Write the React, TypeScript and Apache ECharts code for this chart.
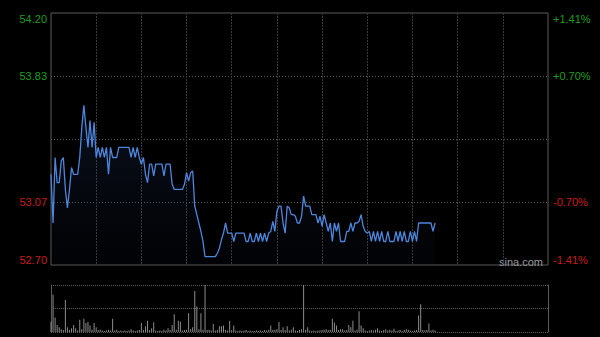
import { useEffect, useRef } from 'react';
import * as echarts from 'echarts';

// Intraday price per minute slot (first 188 of 242 slots)
const prices: number[] = [
  53.24, 52.95, 53.34, 53.19, 53.19, 53.32, 53.34, 53.15, 53.04, 53.15,
  53.28, 53.24, 53.24, 53.24, 53.34, 53.52, 53.65, 53.52, 53.40, 53.56,
  53.40, 53.55, 53.34, 53.40, 53.34, 53.40, 53.34, 53.40, 53.24, 53.40,
  53.34, 53.34, 53.34, 53.40, 53.40, 53.40, 53.40, 53.40, 53.40, 53.34,
  53.40, 53.34, 53.40, 53.34, 53.30, 53.34, 53.24, 53.19, 53.30, 53.30,
  53.23, 53.30, 53.30, 53.30, 53.30, 53.23, 53.30, 53.30, 53.30, 53.18,
  53.15, 53.15, 53.15, 53.15, 53.15, 53.18, 53.25, 53.20, 53.25, 53.26,
  53.05, 53.00, 52.95, 52.90, 52.84, 52.75, 52.75, 52.75, 52.75, 52.75,
  52.75, 52.77, 52.80, 52.85, 52.89, 52.95, 52.89, 52.89, 52.89, 52.84,
  52.89, 52.89, 52.89, 52.89, 52.89, 52.84, 52.84, 52.89, 52.84, 52.84,
  52.89, 52.84, 52.89, 52.84, 52.89, 52.84, 52.89, 52.90, 52.96, 52.90,
  53.02, 53.05, 53.05, 52.95, 52.89, 53.05, 53.04, 53.00, 53.00, 52.99,
  52.95, 52.95, 52.99, 53.11, 53.05, 53.05, 53.05, 53.00, 53.00, 53.00,
  52.95, 52.99, 52.93, 53.00, 52.95, 52.90, 52.95, 52.84, 52.95, 52.90,
  52.95, 52.84, 52.84, 52.84, 52.90, 52.90, 52.95, 52.90, 52.95, 52.95,
  52.96, 53.00, 52.93, 52.90, 52.89, 52.90, 52.84, 52.90, 52.84, 52.90,
  52.84, 52.90, 52.84, 52.84, 52.90, 52.84, 52.84, 52.84, 52.90, 52.84,
  52.90, 52.84, 52.90, 52.84, 52.84, 52.90, 52.84, 52.90, 52.84, 52.95,
  52.95, 52.95, 52.95, 52.95, 52.95, 52.95, 52.90, 52.95,
];

// Volume per minute slot (relative units, panel top = 100)
const volumes: number[] = [
  22, 79, 31, 15, 10, 6, 4, 68, 10, 4,
  8, 15, 8, 3, 26, 6, 28, 19, 22, 14,
  5, 19, 10, 4, 5, 3, 2, 3, 5, 3,
  28, 3, 5, 2, 3, 2, 3, 2, 3, 6,
  3, 2, 3, 4, 19, 4, 12, 24, 4, 8,
  21, 3, 2, 3, 2, 5, 3, 8, 4, 15,
  38, 5, 24, 22, 3, 4, 5, 40, 6, 10,
  87, 54, 6, 40, 5, 110, 4, 5, 3, 17,
  3, 4, 12, 12, 14, 4, 3, 24, 4, 14,
  3, 2, 3, 2, 3, 4, 2, 3, 2, 2,
  3, 2, 3, 2, 4, 3, 5, 14, 4, 5,
  6, 22, 4, 10, 4, 12, 3, 5, 10, 3,
  2, 4, 6, 110, 5, 10, 3, 2, 3, 2,
  3, 3, 4, 5, 6, 4, 5, 28, 20, 14,
  4, 6, 6, 3, 4, 15, 10, 24, 3, 5,
  44, 14, 8, 3, 2, 3, 4, 3, 5, 8,
  3, 2, 4, 6, 3, 5, 3, 7, 2, 3,
  5, 2, 4, 6, 5, 3, 2, 3, 4, 35,
  59, 4, 3, 4, 18, 3, 5, 3,
];

const priceLabels: string[] = ['52.70', '53.07', '', '53.83', '54.20'];
const pctLabels: string[] = ['-1.41%', '-0.70%', '', '+0.70%', '+1.41%'];
const priceFloor = 52.7;
const priceStep = 0.375;
const totalSlots = 242;
const slotStep = 22;

const GREEN = '#1e9e1e';
const RED = '#cc1a1a';
const FONT = 'Liberation Sans, Arial, sans-serif';

export default function App() {
  const ref = useRef<HTMLDivElement>(null);

  useEffect(() => {
    const chart = echarts.init(ref.current!, null, { renderer: 'svg' });
    const idx = (v: number) => Math.round(v / priceStep);
    const labelColor = (v: any) => (idx(Number(v)) > 2 ? GREEN : RED);

    chart.setOption({
      animation: false,
      backgroundColor: '#000',
      textStyle: { fontFamily: FONT },
      grid: [
        { left: 51, top: 13, width: 497, height: 252, show: true, borderColor: '#5a5a5a', borderWidth: 1 },
        { left: 51, top: 285, width: 497, height: 47, show: false },
      ],
      xAxis: [
        {
          type: 'value', gridIndex: 0, min: 0, max: totalSlots, interval: slotStep,
          axisLine: { show: false }, axisTick: { show: false }, axisLabel: { show: false },
          splitLine: { show: true, showMinLine: false, showMaxLine: false, lineStyle: { color: '#3a3a3a', type: [2, 1], width: 1 } },
        },
        {
          type: 'value', gridIndex: 1, min: 0, max: totalSlots, interval: slotStep,
          axisLine: { show: false }, axisTick: { show: false }, axisLabel: { show: false },
          splitLine: { show: false },
        },
      ],
      yAxis: [
        {
          type: 'value', gridIndex: 0, min: 0, max: priceStep * 4, interval: priceStep, position: 'left',
          axisLine: { show: false }, axisTick: { show: false },
          axisLabel: {
            margin: 4, fontSize: 11, fontFamily: FONT,
            formatter: (v: number) => priceLabels[idx(v)] ?? '',
            color: labelColor,
            verticalAlignMinLabel: 'bottom', verticalAlignMaxLabel: 'top',
          },
          splitLine: { show: true, showMinLine: false, showMaxLine: false, lineStyle: { color: '#5e5e5e', type: [1, 2], width: 1 } },
        },
        {
          type: 'value', gridIndex: 0, min: 0, max: priceStep * 4, interval: priceStep, position: 'right',
          axisLine: { show: false }, axisTick: { show: false },
          axisLabel: {
            margin: 5, fontSize: 11, fontFamily: FONT,
            formatter: (v: number) => pctLabels[idx(v)] ?? '',
            color: labelColor,
            verticalAlignMinLabel: 'bottom', verticalAlignMaxLabel: 'top',
          },
          splitLine: { show: false },
        },
        {
          type: 'value', gridIndex: 1, min: 0, max: 100, interval: 50, position: 'left',
          axisLine: { show: true, lineStyle: { color: '#5a5a5a', width: 1 } },
          axisTick: { show: false }, axisLabel: { show: false },
          splitLine: { show: true, lineStyle: { color: '#5a5a5a', type: [1, 1], width: 1 } },
        },
        {
          type: 'value', gridIndex: 1, min: 0, max: 100, interval: 50, position: 'right',
          axisLine: { show: true, lineStyle: { color: '#5a5a5a', width: 1 } },
          axisTick: { show: false }, axisLabel: { show: false }, splitLine: { show: false },
        },
      ],
      series: [
        {
          type: 'line', xAxisIndex: 0, yAxisIndex: 0,
          data: prices.map((p, i) => [i, p - priceFloor]),
          showSymbol: false, symbol: 'none',
          lineStyle: { color: '#4d86dc', width: 1.3 },
          areaStyle: {
            color: new echarts.graphic.LinearGradient(0, 0, 0, 1, [
              { offset: 0, color: 'rgba(40,70,130,0.35)' },
              { offset: 1, color: 'rgba(20,30,60,0.12)' },
            ]),
          },
        },
        {
          type: 'bar', xAxisIndex: 1, yAxisIndex: 2,
          data: volumes.map((v, i) => [i, v]),
          barWidth: 1, clip: true,
          itemStyle: { color: '#8c8c8c' },
        },
      ],
      graphic: [
        {
          type: 'text', left: 499, top: 256,
          style: { text: 'sina.com', fill: '#9a9a9a', fontSize: 11, fontFamily: FONT },
        },
      ],
    });

    return () => chart.dispose();
  }, []);

  return (
    <div
      ref={ref}
      style={{ position: 'fixed', left: 0, top: 0, width: 600, height: 337, background: '#000' }}
    />
  );
}
